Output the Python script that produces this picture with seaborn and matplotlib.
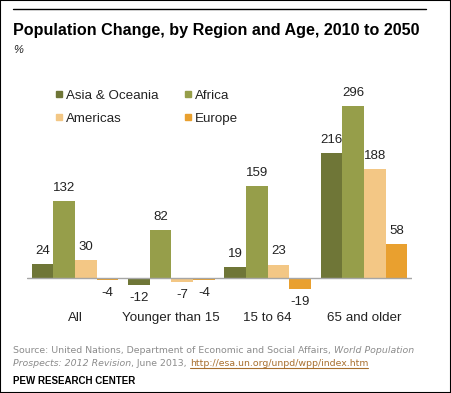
import matplotlib

matplotlib.use("Agg")

import matplotlib.pyplot as plt
from matplotlib.lines import Line2D
from matplotlib.patches import Rectangle
import seaborn as sns
import pandas as pd

# ------------------------------------------------------------
# data
# ------------------------------------------------------------
age_groups = ["All", "Younger than 15", "15 to 64", "65 and older"]
regions = ["Asia & Oceania", "Africa", "Americas", "Europe"]
asia_oceania = [24, -12, 19, 216]
africa = [132, 82, 159, 296]
americas = [30, -7, 23, 188]
europe = [-4, -4, -19, 58]

colors = ["#6f7637", "#969e4a", "#f3c785", "#e9a02f"]

W, H = 451, 393


def fx(px):
    return px / W


def fy(py):
    return 1 - py / H


rows = []
for region, vals in zip(regions, [asia_oceania, africa, americas, europe]):
    for age, v in zip(age_groups, vals):
        rows.append({"age": age, "region": region, "value": v})
df = pd.DataFrame(rows)

sns.set_style("white")
plt.rcParams["font.family"] = ["Liberation Sans", "DejaVu Sans"]

fig = plt.figure(figsize=(W / 100, H / 100), dpi=100)
ax = fig.add_axes([fx(27), fy(330), fx(412) - fx(27), fy(100) - fy(330)])

sns.barplot(
    data=df, x="age", y="value", hue="region", order=age_groups,
    hue_order=regions, palette=colors, width=0.9, saturation=1,
    linewidth=0, ax=ax,
)
ax.set_xlim(-0.5, 3.5)
ax.set_ylim(-90, 307)
ax.axhline(0, color="#a6a6a6", lw=1.0)
sns.despine(ax=ax, left=True, bottom=True)
ax.set_xticks([])
ax.set_yticks([])
ax.set_xlabel("")
ax.set_ylabel("")
ax.get_legend().remove()

# value labels
for container in ax.containers:
    for bar in container:
        v = bar.get_height()
        xc = bar.get_x() + bar.get_width() / 2
        off = 9.5 if v >= 0 else -9.5
        ax.annotate(f"{v:.0f}", (xc, v), xytext=(0, off), textcoords="offset points",
                    ha="center", va="center", fontsize=9.5, color="#222222")

# category labels
for i, age in enumerate(age_groups):
    ax.text(i, -69, age, ha="center", va="center", fontsize=9.6, color="#222222")

# legend
legend_pos = [(59, 94), (188, 94), (59, 117), (188, 117)]
for (lx, ly), region, c in zip(legend_pos, regions, colors):
    fig.patches.append(Rectangle((fx(lx - 3), fy(ly + 3)), 6 / W, 6 / H,
                                 transform=fig.transFigure, color=c))
    fig.text(fx(lx + 7), fy(ly + 5), region, ha="left", va="baseline",
             fontsize=9.6, color="#222222")

# header
fig.lines.append(Line2D([fx(13), fx(426)], [fy(9), fy(9)], color="black", lw=1.0,
                        transform=fig.transFigure))
fig.text(fx(13), fy(30), "Population Change, by Region and Age, 2010 to 2050",
         ha="left", va="center", fontsize=11.6, fontweight="bold", color="black")
fig.text(fx(13), fy(50), "%", ha="left", va="center", fontsize=8, style="italic",
         color="#222222")

# source lines with mixed styles
renderer = fig.canvas.get_renderer()


def draw_runs(x_px, y_px, runs):
    x = x_px
    for txt, kw in runs:
        underline = kw.pop("underline", False)
        t = fig.text(fx(x), fy(y_px), txt, ha="left", va="baseline", fontsize=6.75,
                     family="DejaVu Sans", **kw)
        bb = t.get_window_extent(renderer)
        if underline:
            fig.lines.append(Line2D([fx(x), fx(x + bb.width)], [fy(y_px + 2), fy(y_px + 2)],
                                    color=kw.get("color"), lw=0.8,
                                    transform=fig.transFigure))
        x += bb.width


grey = "#8c8c8c"
draw_runs(13, 353, [
    ("Source: United Nations, Department of Economic and Social Affairs, ", {"color": grey}),
    ("World Population", {"color": grey, "style": "italic"}),
])
draw_runs(13, 366, [
    ("Prospects: 2012 Revision", {"color": grey, "style": "italic"}),
    (", June 2013, ", {"color": grey}),
    ("http://esa.un.org/unpd/wpp/index.htm", {"color": "#a86f2e", "underline": True}),
])
fig.text(fx(13), fy(381), "PEW RESEARCH CENTER", ha="left", va="center",
         fontsize=7, fontweight="bold", color="black")

# frame
fig.patches.append(Rectangle((0, 0), 1, 1, transform=fig.transFigure, fill=False,
                             edgecolor="black", lw=1.5))

fig.savefig("out.png", dpi=100)
plt.close(fig)
